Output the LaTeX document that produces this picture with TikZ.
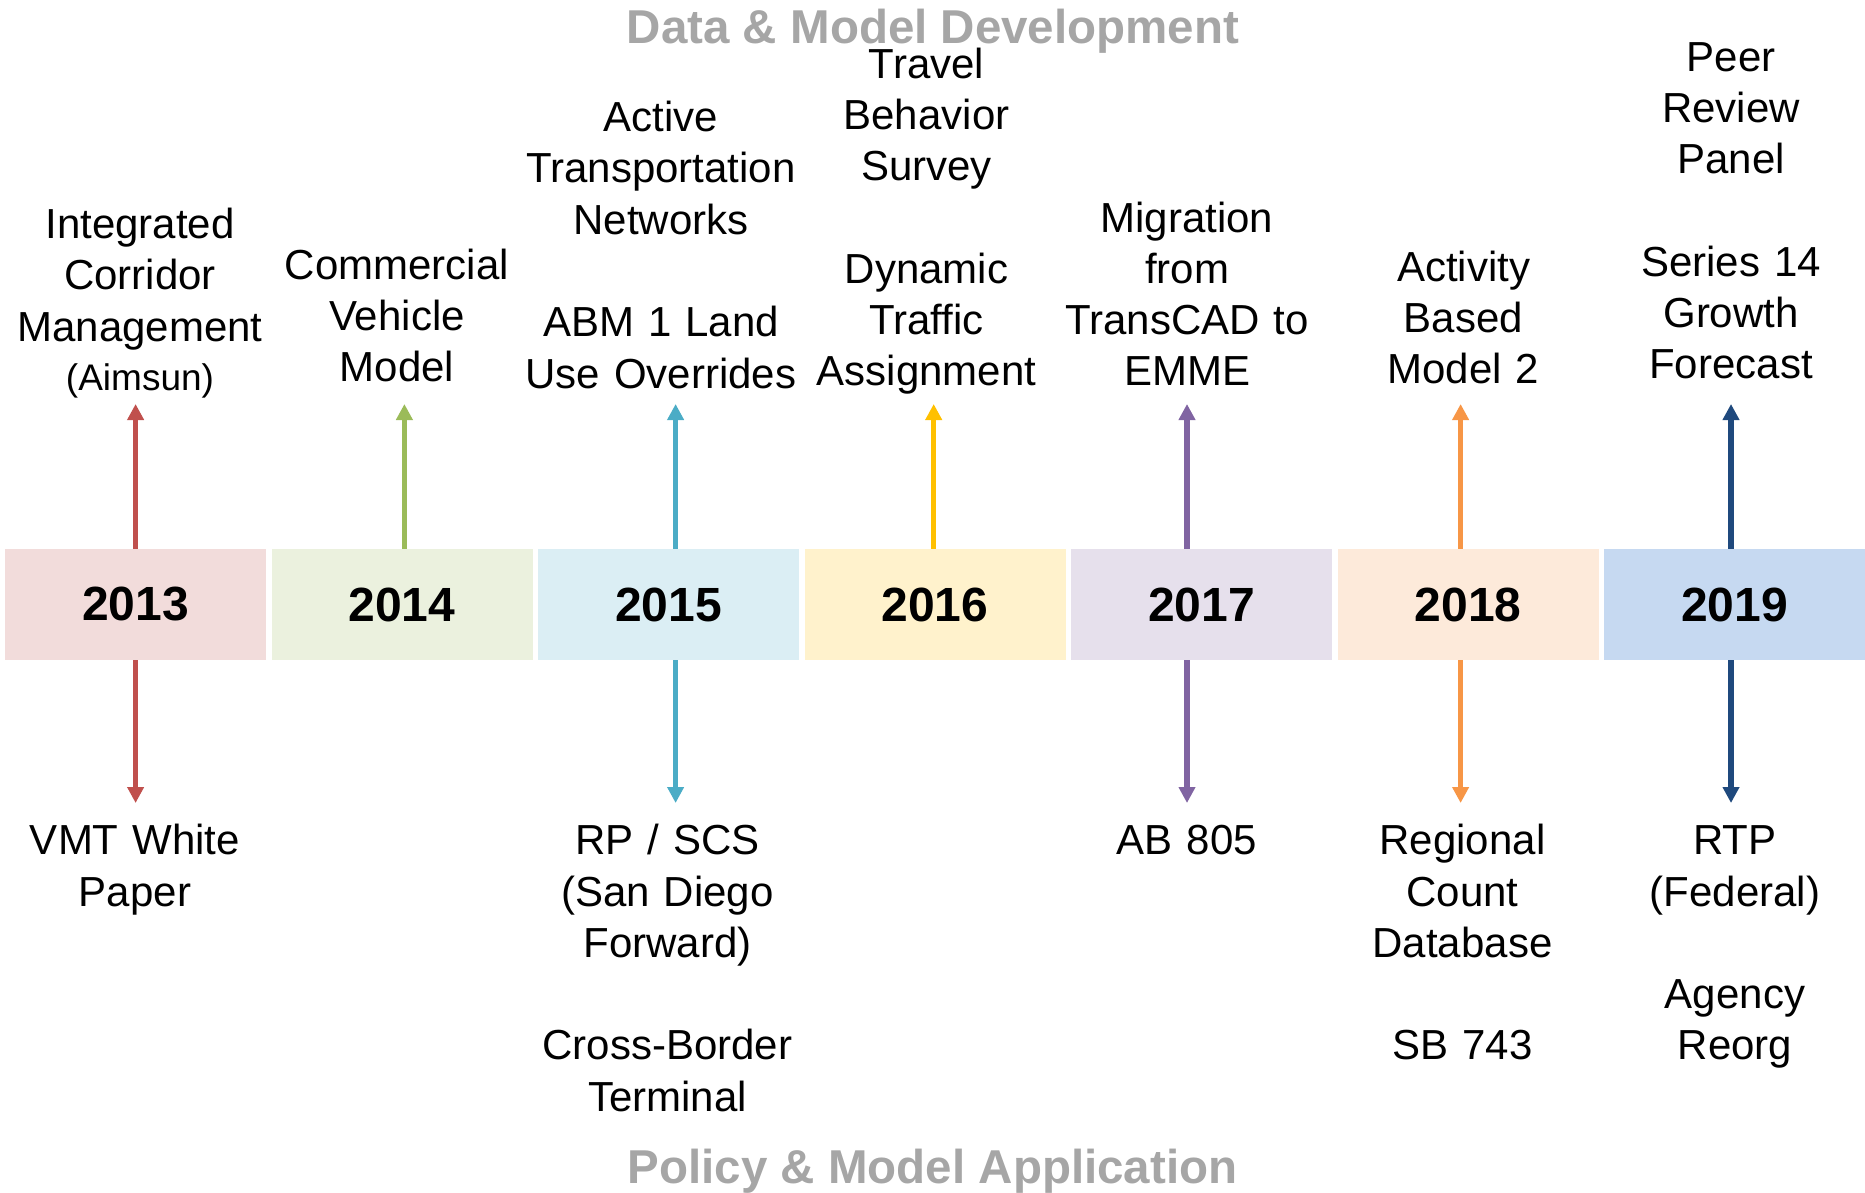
\documentclass[tikz,border=0pt]{standalone}
\usepackage{fontspec}
\setmainfont{Liberation Sans}
\usetikzlibrary{positioning, arrows.meta}

\definecolor{red13}{HTML}{C0504D}
\definecolor{green14}{HTML}{9BBB59}
\definecolor{aqua15}{HTML}{4BACC6}
\definecolor{gold16}{HTML}{FFC000}
\definecolor{purple17}{HTML}{8064A2}
\definecolor{orange18}{HTML}{F79646}
\definecolor{navy19}{HTML}{1F497D}
\definecolor{sky19}{HTML}{C6D9F1}
\definecolor{headgray}{HTML}{A6A6A6}

\tikzset{
node distance=266.5pt, % spacing between the year boxes
yearbox/.style={minimum width=261pt, minimum height=111pt, inner sep=0pt, font=\fontsize{48}{58}\selectfont\bfseries}, % coloured year cells
milestone/.style={text width=320pt, align=center, anchor=base, inner sep=0pt, font=\fontsize{42}{51.3}\selectfont}, % event labels
heading/.style={anchor=base, inner sep=0pt, text=headgray, font=\fontsize{47.5}{57}\selectfont\bfseries}, % grey titles
link/.style={line width=5.3pt, -{Triangle[width=16pt,length=16pt]}}, % arrows from the years
}
\newcommand{\smallnote}[1]{{\fontsize{37}{44}\selectfont #1}}

\begin{document}
\begin{tikzpicture}[x=1pt, y=-1pt]
    \useasboundingbox (0,0) rectangle (1865,1192);

    % titles
    \node[heading] (dev) at (933, 43) {Data \& Model Development};
    \node[heading] (app) at (932.5, 1183) {Policy \& Model Application};

    % year boxes
    \node[yearbox, fill=red13!20] (y13) at (135.5, 604.5) {2013};
    \node[yearbox, fill=green14!20, right of=y13] (y14) {2014};
    \node[yearbox, fill=aqua15!20, right of=y14] (y15) {2015};
    \node[yearbox, fill=gold16!20, right of=y15] (y16) {2016};
    \node[yearbox, fill=purple17!20, right of=y16] (y17) {2017};
    \node[yearbox, fill=orange18!20, right of=y17] (y18) {2018};
    \node[yearbox, fill=sky19, right of=y18] (y19) {2019};

    % arrow tips
    \coordinate (t13) at (135.6, 404);
    \coordinate (t14) at (404.4, 404);
    \coordinate (t15) at (675.6, 404);
    \coordinate (t16) at (933.7, 404);
    \coordinate (t17) at (1187, 404);
    \coordinate (t18) at (1460.6, 404);
    \coordinate (t19) at (1731, 404);
    \coordinate (b13) at (135.6, 803);
    \coordinate (b15) at (675.6, 803);
    \coordinate (b17) at (1187, 803);
    \coordinate (b18) at (1460.6, 803);
    \coordinate (b19) at (1731, 803);

    % data & model development
    \node[milestone] (top13) at (140, 238.6) {Integrated\\Corridor\\Management\\[-2.5pt]\smallnote{(Aimsun)}};
    \node[milestone] (top14) at (397, 279) {Commercial\\Vehicle\\Model};
    \node[milestone] (top15) at (661, 131.5) {Active\\Transportation\\Networks\\~\\ABM 1 Land\\Use Overrides};
    \node[milestone] (top16) at (926.5, 78) {Travel\\Behavior\\Survey\\~\\Dynamic\\Traffic\\Assignment};
    \node[milestone] (top17) at (1187, 232) {Migration\\from\\TransCAD to\\EMME};
    \node[milestone] (top18) at (1463.5, 281) {Activity\\Based\\Model 2};
    \node[milestone] (top19) at (1731, 71) {Peer\\Review\\Panel\\~\\Series 14\\Growth\\Forecast};

    % policy & model application
    \node[milestone] (bot13) at (135, 854.7) {VMT White\\Paper};
    \node[milestone] (bot15) at (667.5, 854.7) {RP / SCS\\(San Diego\\Forward)\\~\\Cross-Border\\Terminal};
    \node[milestone] (bot17) at (1187, 854.7) {AB 805};
    \node[milestone] (bot18) at (1462.5, 854.7) {Regional\\Count\\Database\\~\\SB 743};
    \node[milestone] (bot19) at (1735, 854.7) {RTP\\(Federal)\\~\\Agency\\Reorg};

    \draw[link, red13] (y13.north -| t13) -- (t13);
    \draw[link, green14] (y14.north -| t14) -- (t14);
    \draw[link, aqua15] (y15.north -| t15) -- (t15);
    \draw[link, gold16] (y16.north -| t16) -- (t16);
    \draw[link, purple17] (y17.north -| t17) -- (t17);
    \draw[link, orange18] (y18.north -| t18) -- (t18);
    \draw[link, navy19] (y19.north -| t19) -- (t19);

    \draw[link, red13] (y13.south -| b13) -- (b13);
    \draw[link, aqua15] (y15.south -| b15) -- (b15);
    \draw[link, purple17] (y17.south -| b17) -- (b17);
    \draw[link, orange18] (y18.south -| b18) -- (b18);
    \draw[link, navy19] (y19.south -| b19) -- (b19);
\end{tikzpicture}
\end{document}
